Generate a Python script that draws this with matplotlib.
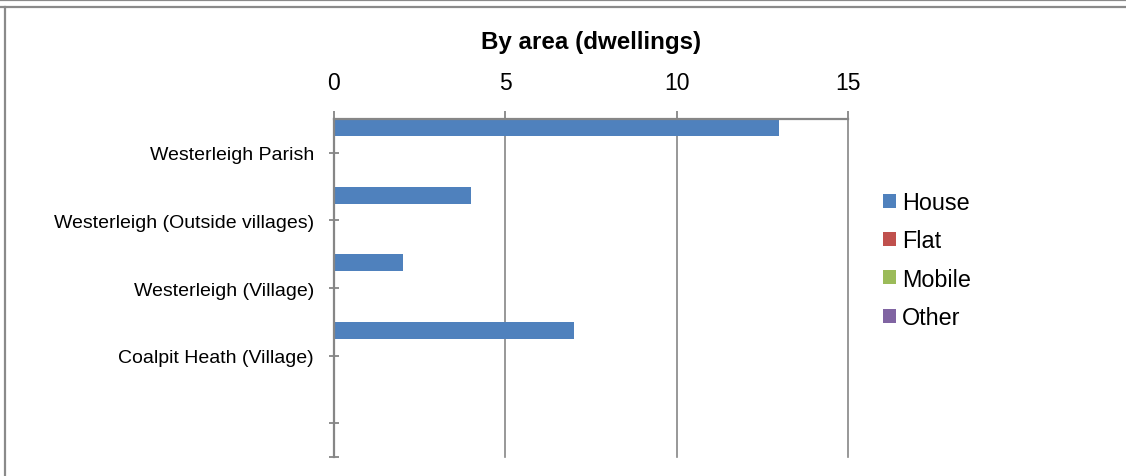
import numpy as np
import matplotlib
matplotlib.use('Agg')
import matplotlib.pyplot as plt
from matplotlib.lines import Line2D

# data
areas = ['Westerleigh Parish', 'Westerleigh (Outside villages)',
         'Westerleigh (Village)', 'Coalpit Heath (Village)', '']
house = [13, 4, 2, 7, 0]
flat = [0, 0, 0, 0, 0]
mobile = [0, 0, 0, 0, 0]
other = [0, 0, 0, 0, 0]
series_names = ['House', 'Flat', 'Mobile', 'Other']
colors = ['#4F81BD', '#C0504D', '#9BBB59', '#8064A2']
x_ticks = [0, 5, 10, 15]

plt.rcParams['font.family'] = ['Liberation Sans', 'DejaVu Sans']
grey = '#868686'

fig = plt.figure(figsize=(11.26, 4.77), dpi=100)
ax = fig.add_axes([334 / 1126, 1 - 458 / 477, (848 - 334) / 1126, (458 - 120) / 477])

n = len(areas)
y = np.arange(n)
h = 1.0 / len(series_names)
for j, (vals, name, c) in enumerate(zip([house, flat, mobile, other], series_names, colors)):
    ax.barh(y - 0.5 + (j + 0.5) * h, vals, height=h, color=c, label=name,
            linewidth=0, zorder=3)

ax.set_xlim(0, 15)
ax.set_ylim(n - 0.5, -0.5)

# x axis on top
ax.xaxis.tick_top()
ax.set_xticks(x_ticks)
ax.tick_params(axis='x', colors=grey, labelcolor='black', labelsize=16.5,
               direction='out', length=6, width=1.3, pad=12)
ax.grid(axis='x', color=grey, linewidth=1.2, zorder=1)
for gl in ax.get_xgridlines():
    gl.set_clip_on(False)

ax.set_yticks(list(y) + [n - 0.5])
ax.set_yticklabels(areas + [''])
ax.tick_params(axis='y', colors=grey, labelcolor='black', labelsize=14,
               direction='inout', length=7, width=1.3, pad=11)

for s in ['right', 'bottom']:
    ax.spines[s].set_visible(False)
for s in ['top', 'left']:
    ax.spines[s].set_color(grey)
    ax.spines[s].set_linewidth(1.6)
    ax.spines[s].set_zorder(4)

fig.text(591 / 1126, 1 - 43 / 477, 'By area (dwellings)', fontsize=17.4,
         fontweight='bold', ha='center', va='center')

ax.legend(loc='center left', bbox_to_anchor=(883 / 1126, 1 - 261 / 477),
          bbox_transform=fig.transFigure, frameon=False, fontsize=16.8,
          handlelength=0.55, handleheight=0.55, handletextpad=0.25,
          labelspacing=0.66, borderpad=0, borderaxespad=0)

# frame lines around the chart
fig.add_artist(Line2D([0, 1], [1 - 1 / 477, 1 - 1 / 477], color='#8a8a8a', lw=1.6))
fig.add_artist(Line2D([0, 1], [1 - 8 / 477, 1 - 8 / 477], color='#8a8a8a', lw=1.6))
fig.add_artist(Line2D([5 / 1126, 5 / 1126], [0, 1 - 8 / 477], color='#8a8a8a', lw=1.6))

fig.savefig('out.png', dpi=100)
